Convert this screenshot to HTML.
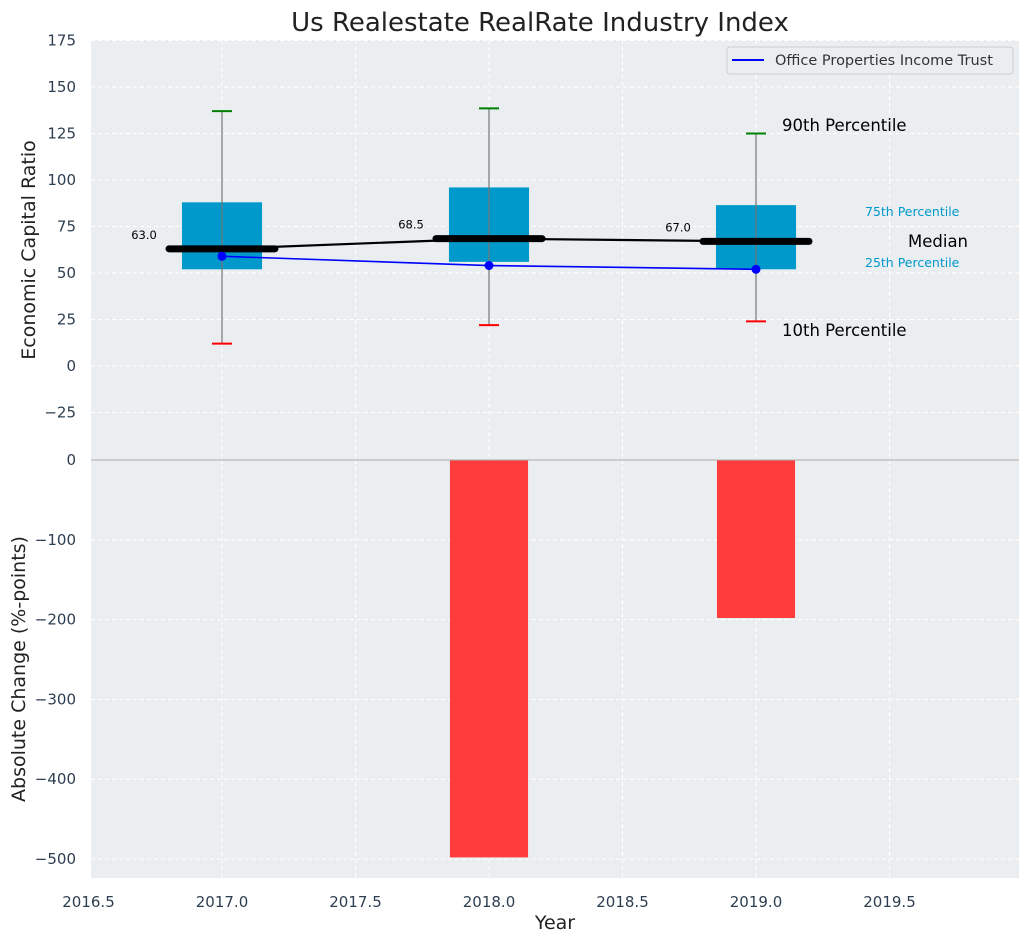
<!DOCTYPE html>
<html><head><meta charset="utf-8"><style>
body{margin:0;background:#fff;}
svg{display:block;font-family:"DejaVu Sans","Liberation Sans",sans-serif;}
</style></head><body>
<svg id="c" width="1029" height="942" xmlns="http://www.w3.org/2000/svg"></svg>
<script>
const years=[2017,2018,2019];
const p10=[12,22,24];
const p25=[52,56,52];
const medians=[63,68.5,67];
const p75=[88,96,86.5];
const p90=[137,138.5,125];
const company=[59,54,52];
const changes=[0,-498,-198];
const topTicks=[-25,0,25,50,75,100,125,150,175];
const botTicks=[-500,-400,-300,-200,-100,0];
const xTicks=[2016.5,2017,2017.5,2018,2018.5,2019,2019.5];

const svg=document.getElementById('c');
const NS='http://www.w3.org/2000/svg';
function el(t,a,txt){const e=document.createElementNS(NS,t);for(const k in a)e.setAttribute(k,a[k]);if(txt!==undefined)e.textContent=txt;svg.appendChild(e);return e;}
const L=91,R=1019,T1=40,B1=460,B2=878;
const x=v=>222+(v-2017)*267;
const y1=v=>366-v*1.86;
const y2=v=>460+(-v)*0.798;

let e;
e=el('rect',{x:L,y:T1,width:R-L,height:B1-T1,fill:'#eaeef0'});

e=el('rect',{x:L,y:B1,width:R-L,height:B2-B1,fill:'#eaeef0'});


xTicks.forEach(t=>{const X=x(t);if(X>=L&&X<=R){
 e=el('line',{x1:X,x2:X,y1:T1,y2:B2,stroke:'#fff','stroke-dasharray':'4,3','stroke-width':1});
 }
 e=el('text',{x:X,y:907,'text-anchor':'middle','font-size':15,fill:'#2d3e50'},t.toFixed(1));
 
});
topTicks.forEach(t=>{const Y=y1(t);
 e=el('line',{x1:L,x2:R,y1:Y,y2:Y,stroke:'#fff','stroke-dasharray':'4,3'});
 
 e=el('text',{x:76,y:Y+5,'text-anchor':'end','font-size':15,fill:'#2d3e50'},(t<0?'\u2212'+(-t):t));
 
});
botTicks.forEach(t=>{const Y=y2(t);
 e=el('line',{x1:L,x2:R,y1:Y,y2:Y,stroke:'#fff','stroke-dasharray':'4,3'});
 
 e=el('text',{x:76,y:Y+5,'text-anchor':'end','font-size':15,fill:'#2d3e50'},(t<0?'\u2212'+(-t):t));
 
});

const bw=0.3*267;
years.forEach((yr,i)=>{const X=x(yr);
 e=el('rect',{x:X-bw/2,y:y1(p75[i]),width:bw,height:y1(p25[i])-y1(p75[i]),fill:'#0099cc'});
 
 e=el('line',{x1:X,x2:X,y1:y1(p90[i]),y2:y1(p10[i]),stroke:'#777','stroke-width':1.2});
 
 e=el('line',{x1:X-10,x2:X+10,y1:y1(p90[i]),y2:y1(p90[i]),stroke:'green','stroke-width':2});
 
 e=el('line',{x1:X-10,x2:X+10,y1:y1(p10[i]),y2:y1(p10[i]),stroke:'red','stroke-width':2});
 
 if(changes[i]!==0){e=el('rect',{x:X-bw/2+1,y:y2(0),width:bw-2,height:y2(changes[i])-y2(0),fill:'#ff3d3d'});
 }
});
e=el('polyline',{points:years.map((yr,i)=>x(yr)+','+y1(medians[i])).join(' '),fill:'none',stroke:'#000','stroke-width':2.2});

years.forEach((yr,i)=>{const X=x(yr);
 e=el('line',{x1:X-53,x2:X+53,y1:y1(medians[i]),y2:y1(medians[i]),stroke:'#000','stroke-width':7,'stroke-linecap':'round'});
 
 e=el('text',{x:X-78,y:y1(medians[i])-10,'text-anchor':'middle','font-size':11.5,fill:'#000'},medians[i].toFixed(1));
 
});
e=el('polyline',{points:years.map((yr,i)=>x(yr)+','+y1(company[i])).join(' '),fill:'none',stroke:'#0000ff','stroke-width':1.6});

years.forEach((yr,i)=>{e=el('circle',{cx:x(yr),cy:y1(company[i]),r:4.5,fill:'#0000ff'});
 });

e=el('line',{x1:L,x2:R,y1:460,y2:460,stroke:'#aaa','stroke-width':1});


const ann=[['90th Percentile',782,131,16.5,'#000','p90-annotation'],['10th Percentile',782,336,16.5,'#000','p10-annotation'],['Median',908,247,16.5,'#000','median-annotation'],['75th Percentile',865,216,12.5,'#0099cc','p75-annotation'],['25th Percentile',865,267,12.5,'#0099cc','p25-annotation']];
ann.forEach(a=>{e=el('text',{x:a[1],y:a[2],'font-size':a[3],fill:a[4]},a[0]);});

e=el('rect',{x:727,y:47,width:286,height:27,rx:3,fill:'#eaeef0',stroke:'#ccc'});

e=el('line',{x1:732,x2:764,y1:60,y2:60,stroke:'#0000ff','stroke-width':2});

e=el('text',{x:775,y:65,'font-size':14.5,fill:'#333'},'Office Properties Income Trust');


e=el('text',{x:540,y:31,'text-anchor':'middle','font-size':26,fill:'#222'},'Us Realestate RealRate Industry Index');

e=el('text',{x:555,y:929,'text-anchor':'middle','font-size':19,fill:'#222'},'Year');

e=el('text',{x:0,y:0,'text-anchor':'middle','font-size':19,fill:'#222',transform:'translate(35,250) rotate(-90)'},'Economic Capital Ratio');

e=el('text',{x:0,y:0,'text-anchor':'middle','font-size':19,fill:'#222',transform:'translate(25,669) rotate(-90)'},'Absolute Change (%-points)');

</script>
</body></html>
